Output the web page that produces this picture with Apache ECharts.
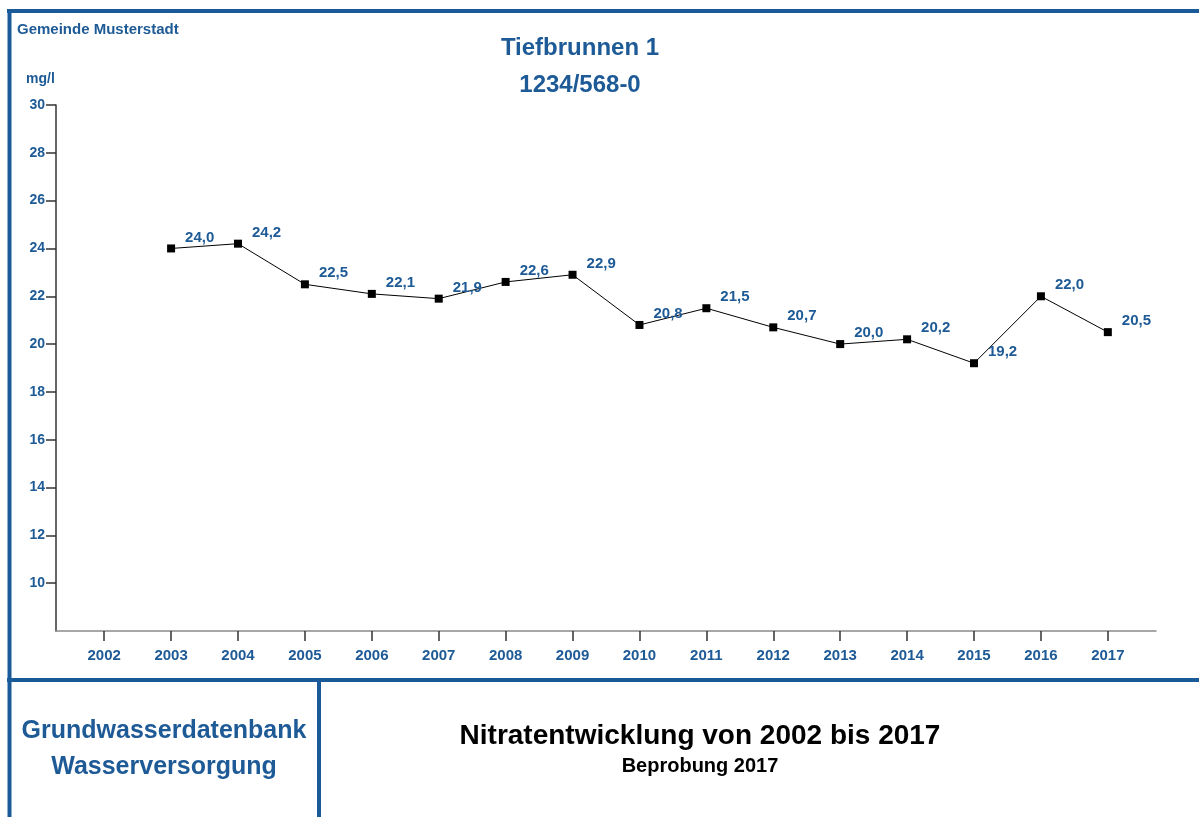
<!DOCTYPE html>
<html>
<head>
<meta charset="utf-8">
<title>Nitratentwicklung Tiefbrunnen 1</title>
<script src="https://cdn.jsdelivr.net/npm/echarts@6/dist/echarts.min.js"></script>
<style>
  html, body { margin: 0; padding: 0; background: #ffffff; }
  #chart { width: 1199px; height: 817px; }
</style>
</head>
<body>
<div id="chart"></div>
<script>
// Nitrate measurements (mg/l) per sampling year
const years = [2002, 2003, 2004, 2005, 2006, 2007, 2008, 2009, 2010, 2011, 2012, 2013, 2014, 2015, 2016, 2017];
const sampleYears = [2003, 2004, 2005, 2006, 2007, 2008, 2009, 2010, 2011, 2012, 2013, 2014, 2015, 2016, 2017];
const nitrate = [24.0, 24.2, 22.5, 22.1, 21.9, 22.6, 22.9, 20.8, 21.5, 20.7, 20.0, 20.2, 19.2, 22.0, 20.5];
const yTicks = [10, 12, 14, 16, 18, 20, 22, 24, 26, 28, 30];

const BLUE = '#1d5a96';
const FRAME = '#1b5a99';
const FONT = '"Liberation Sans", Arial, sans-serif';

const chart = echarts.init(document.getElementById('chart'), null, { renderer: 'canvas' });

const points = sampleYears.map((y, i) => [y, nitrate[i]]);

function txt(x, y, text, size, color, align) {
  return {
    type: 'text', x: x, y: y, silent: true,
    style: {
      text: text, fill: color, font: 'bold ' + size + 'px ' + FONT,
      align: align || 'center', verticalAlign: 'middle'
    }
  };
}
function seg(x1, y1, x2, y2) {
  return {
    type: 'line', silent: true,
    shape: { x1: x1, y1: y1, x2: x2, y2: y2 },
    style: { stroke: FRAME, lineWidth: 4 }
  };
}

chart.setOption({
  backgroundColor: '#ffffff',
  animation: false,
  grid: { left: 56, right: 43, top: 105, bottom: 186, containLabel: false },
  xAxis: {
    type: 'value',
    min: 2001.28,
    max: 2017.72,
    splitLine: { show: false },
    axisLine: { show: true, lineStyle: { color: '#8a8a8a', width: 1.5 } },
    axisTick: { show: true, inside: false, length: 10, customValues: years, lineStyle: { color: '#333333', width: 1.5 } },
    axisLabel: {
      customValues: years,
      margin: 17,
      color: BLUE, fontFamily: FONT, fontWeight: 'bold', fontSize: 15,
      formatter: v => String(v)
    }
  },
  yAxis: {
    type: 'value',
    min: 8,
    max: 30,
    interval: 2,
    splitLine: { show: false },
    axisLine: { show: true, lineStyle: { color: '#333333', width: 1.5 } },
    axisTick: { show: true, inside: false, length: 10, customValues: yTicks, lineStyle: { color: '#333333', width: 1.5 } },
    axisLabel: {
      customValues: yTicks,
      margin: 11,
      color: BLUE, fontFamily: FONT, fontWeight: 'bold', fontSize: 14
    }
  },
  series: [{
    type: 'line',
    data: points,
    symbol: 'rect',
    symbolSize: 8,
    itemStyle: { color: '#000000' },
    lineStyle: { color: '#000000', width: 1 },
    label: {
      show: true,
      position: 'right',
      distance: 10,
      offset: [0, -11],
      color: BLUE, fontFamily: FONT, fontWeight: 'bold', fontSize: 15,
      formatter: p => p.value[1].toFixed(1).replace('.', ',')
    }
  }],
  graphic: [
    // frame and dividers
    seg(7, 11, 1199, 11),
    seg(9.5, 9, 9.5, 817),
    seg(7, 680, 1199, 680),
    seg(319, 680, 319, 817),
    // header texts
    txt(17, 30, 'Gemeinde Musterstadt', 15, BLUE, 'left'),
    txt(26, 79, 'mg/l', 14, BLUE, 'left'),
    txt(580, 48, 'Tiefbrunnen 1', 24, BLUE),
    txt(580, 85, '1234/568-0', 24, BLUE),
    // footer texts
    txt(164, 731, 'Grundwasserdatenbank', 25, BLUE),
    txt(164, 767, 'Wasserversorgung', 25, BLUE),
    txt(700, 736, 'Nitratentwicklung von 2002 bis 2017', 28, '#000000'),
    txt(700, 766, 'Beprobung 2017', 20, '#000000')
  ]
});
</script>
</body>
</html>
